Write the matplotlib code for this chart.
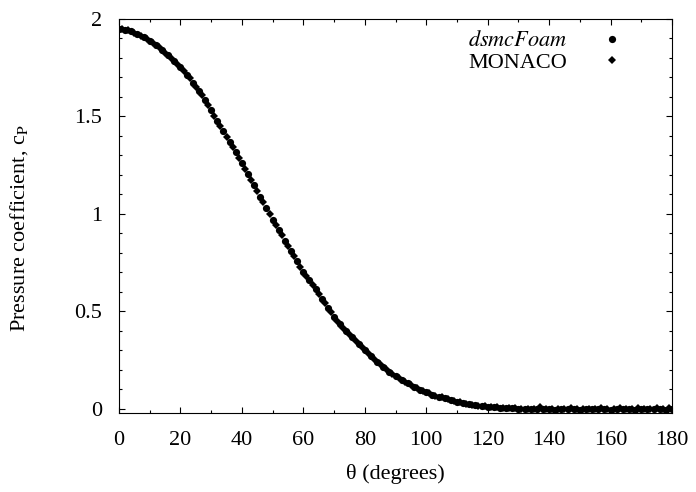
import matplotlib
matplotlib.use('Agg')
import matplotlib.pyplot as plt
import numpy as np

plt.rcParams['font.family'] = ['Liberation Serif', 'DejaVu Serif']
plt.rcParams['mathtext.fontset'] = 'stix'
plt.rcParams['font.size'] = 16

# dsmcFoam: theta = 0, 2, ..., 180
theta_dsmc = np.arange(0, 181, 2)
cp_dsmc = [1.950, 1.945, 1.936, 1.923, 1.907, 1.889, 1.868, 1.840, 1.815, 1.786,
           1.754, 1.715, 1.674, 1.632, 1.585, 1.531, 1.478, 1.424, 1.370, 1.316,
           1.260, 1.204, 1.148, 1.089, 1.029, 0.970, 0.917, 0.864, 0.810, 0.757,
           0.704, 0.660, 0.614, 0.566, 0.519, 0.472, 0.434, 0.400, 0.367, 0.334,
           0.302, 0.271, 0.242, 0.216, 0.190, 0.168, 0.150, 0.131, 0.113, 0.099,
           0.086, 0.074, 0.064, 0.055, 0.046, 0.038, 0.031, 0.025, 0.020, 0.015,
           0.012, 0.009, 0.007, 0.005, 0.003, 0.002, 0.001, 0.000, -0.001, -0.002,
           -0.001, -0.003, -0.002, -0.001, -0.002, -0.003, -0.001, -0.002, -0.002, -0.001,
           -0.003, -0.002, -0.001, -0.002, -0.003, -0.002, -0.001, -0.002, -0.002, -0.003,
           -0.001]

# MONACO: theta = 1, 3, ..., 179
theta_monaco = np.arange(1, 180, 2)
cp_monaco = [1.948, 1.941, 1.930, 1.915, 1.898, 1.879, 1.855, 1.828, 1.801, 1.770,
             1.735, 1.695, 1.653, 1.609, 1.558, 1.505, 1.451, 1.397, 1.343, 1.288,
             1.232, 1.176, 1.118, 1.059, 0.999, 0.943, 0.890, 0.837, 0.783, 0.730,
             0.682, 0.637, 0.590, 0.542, 0.495, 0.453, 0.417, 0.383, 0.350, 0.318,
             0.286, 0.256, 0.229, 0.203, 0.179, 0.159, 0.140, 0.122, 0.106, 0.092,
             0.080, 0.069, 0.059, 0.050, 0.042, 0.034, 0.028, 0.022, 0.017, 0.013,
             0.010, 0.008, 0.006, 0.004, 0.003, 0.002, 0.001, 0.001, 0.008, 0.000,
             0.002, 0.000, 0.001, 0.003, 0.000, 0.001, 0.002, 0.000, 0.007, 0.001,
             0.000, 0.006, 0.001, 0.000, 0.007, 0.001, 0.000, 0.006, 0.002, 0.005]

fig = plt.figure(figsize=(6.96, 4.92), dpi=100)
ax = fig.add_axes([0.171, 0.1606, 0.7945, 0.8008])

ax.plot(theta_dsmc, cp_dsmc, 'o', color='black', markersize=5.2,
        markeredgewidth=0, label=r'$\it{dsmcFoam}$')
ax.plot(theta_monaco, cp_monaco, 'D', color='black', markersize=3.6,
        markeredgewidth=0, label='MONACO')

ax.set_xlim(0, 180)
ax.set_ylim(-0.0205, 2)
ax.set_xticks(np.arange(0, 181, 20))
ax.set_xticks(np.arange(0, 181, 10), minor=True)
ax.set_yticks([0, 0.5, 1, 1.5, 2])
ax.set_yticklabels(['0', '0.5', '1', '1.5', '2'])
ax.set_yticks(np.arange(0, 2.01, 0.1), minor=True)
ax.tick_params(which='both', direction='in', top=True, right=True, width=0.8)
ax.tick_params(which='major', length=4.5)
ax.tick_params(which='minor', length=2.2)
ax.tick_params(axis='x', which='major', pad=13)
ax.tick_params(axis='y', which='major', pad=12)
for s in ax.spines.values():
    s.set_linewidth(0.8)

ax.set_xlabel('θ (degrees)')
ax.set_ylabel(r'Pressure coefficient, c$_\mathrm{P}$')
ax.xaxis.set_label_coords(0.5, -0.13)
ax.yaxis.set_label_coords(-0.161, 0.47)

ax.legend(loc='upper right', frameon=False, markerfirst=False,
          handlelength=2.4, handletextpad=0.8, labelspacing=0.05,
          borderaxespad=0.55, borderpad=0.3, fontsize=16,
          bbox_to_anchor=(0.974, 1.018))

fig.savefig('out.png', dpi=100)
